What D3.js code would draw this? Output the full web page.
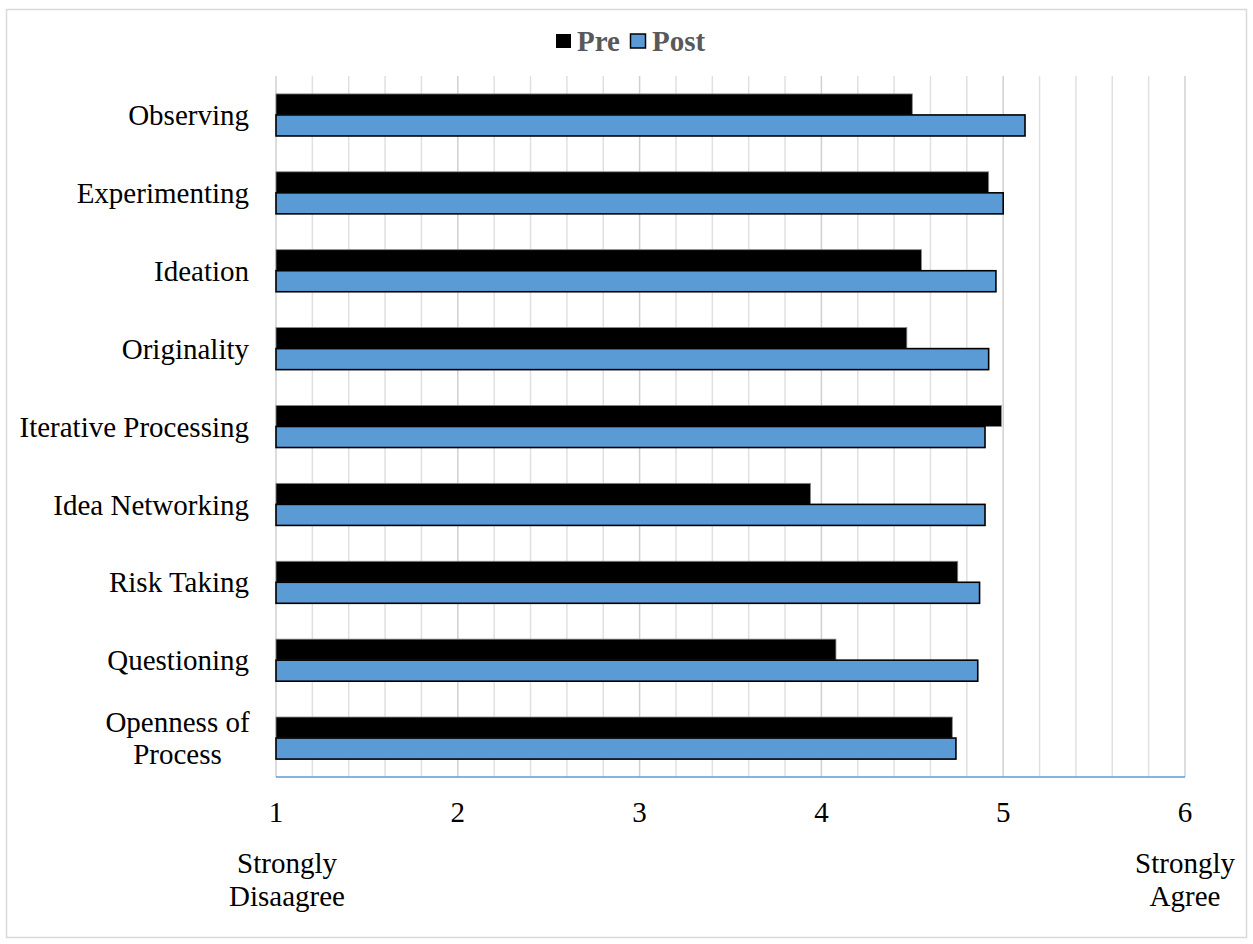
<!DOCTYPE html>
<html>
<head>
<meta charset="utf-8">
<script src="https://cdn.jsdelivr.net/npm/d3@7/dist/d3.min.js"></script>
<style>
    body { margin: 0; background: #fff; }
    svg text { font-family: "Liberation Serif", "Times New Roman", serif; }
</style>
</head>
<body>
<div id="chart"><svg></svg></div>
<script>
var categories = ["Observing", "Experimenting", "Ideation", "Originality", "Iterative Processing",
    "Idea Networking", "Risk Taking", "Questioning", "Openness of Process"];
var preValues = [4.50, 4.92, 4.55, 4.47, 4.99, 3.94, 4.75, 4.08, 4.72];
var postValues = [5.12, 5.00, 4.96, 4.92, 4.90, 4.90, 4.87, 4.86, 4.74];
var seriesNames = ["Pre", "Post"];
var tickValues = [1, 2, 3, 4, 5, 6];

var width = 1253, height = 944;
var fontSize = "29px";
var svg = d3.select("#chart svg").attr("width", width).attr("height", height);

// outer frame
svg.append("rect")
    .attr("x", 6.5).attr("y", 9.5)
    .attr("width", 1240).attr("height", 928)
    .attr("fill", "#fff")
    .attr("stroke", "#d9d9d9")
    .attr("stroke-width", 1.5);

var plot = {left: 276, right: 1185, top: 76, bottom: 777};

var x = d3.scaleLinear().domain([1, 6]).range([plot.left, plot.right]);
var y = d3.scaleBand().domain(categories).range([plot.top, plot.bottom])
    .paddingInner(0.46).paddingOuter(0.23);
var ySub = d3.scaleBand().domain(seriesNames).range([0, y.bandwidth()]);
var colors = {Pre: "#000000", Post: "#5b9bd5"};

// gridlines every 0.2
var gridVals = d3.range(0, 26).map(function (i) { return 1 + i * 0.2; });
svg.append("g").selectAll("line")
    .data(gridVals)
    .enter().append("line")
    .attr("x1", function (d) { return x(d); })
    .attr("x2", function (d) { return x(d); })
    .attr("y1", plot.top)
    .attr("y2", plot.bottom)
    .attr("stroke", function (d, i) { return i % 5 == 0 ? "#d0d0d0" : "#e0e0e0"; })
    .attr("stroke-width", 1.5);

// bars
var rows = categories.map(function (c, i) {
    return {cat: c, values: [{key: "Pre", v: preValues[i]}, {key: "Post", v: postValues[i]}]};
});
var groups = svg.append("g").selectAll("g")
    .data(rows)
    .enter().append("g")
    .attr("transform", function (d) { return "translate(0," + y(d.cat) + ")"; });

groups.selectAll("rect")
    .data(function (d) { return d.values; })
    .enter().append("rect")
    .attr("x", x(1))
    .attr("y", function (d) { return ySub(d.key); })
    .attr("width", function (d) { return x(d.v) - x(1); })
    .attr("height", ySub.bandwidth())
    .attr("fill", function (d) { return colors[d.key]; })
    .attr("stroke", function (d) { return d.key == "Post" ? "#000" : "#888"; })
    .attr("stroke-width", function (d) { return d.key == "Post" ? 1.6 : 0.8; });

// bottom axis line
svg.append("line")
    .attr("x1", plot.left).attr("x2", plot.right)
    .attr("y1", plot.bottom).attr("y2", plot.bottom)
    .attr("stroke", "#5b9bd5").attr("stroke-width", 1.5);

// category labels
var labelG = svg.append("g").attr("font-size", fontSize).attr("fill", "#000");
categories.forEach(function (c) {
    var cy = y(c) + y.bandwidth() / 2;
    if (c == "Openness of Process") {
        var t = labelG.append("text").attr("text-anchor", "middle");
        t.append("tspan").attr("x", 177.5).attr("y", cy - 16).attr("dy", "0.35em").text("Openness of");
        t.append("tspan").attr("x", 177.5).attr("y", cy + 16).attr("dy", "0.35em").text("Process");
    } else {
        labelG.append("text")
            .attr("x", 249)
            .attr("y", cy)
            .attr("dy", "0.35em")
            .attr("text-anchor", "end")
            .text(c);
    }
});

// x tick labels
svg.append("g").selectAll("text")
    .data(tickValues)
    .enter().append("text")
    .attr("x", function (d) { return x(d); })
    .attr("y", 822)
    .attr("text-anchor", "middle")
    .attr("font-size", fontSize)
    .text(function (d) { return d; });

// scale end labels
var ends = [
    {lines: ["Strongly", "Disaagree"], cx: 287},
    {lines: ["Strongly", "Agree"], cx: x(6)}
];
ends.forEach(function (e) {
    var t = svg.append("text").attr("text-anchor", "middle").attr("font-size", fontSize);
    e.lines.forEach(function (l, i) {
        t.append("tspan").attr("x", e.cx).attr("y", 873 + i * 33).text(l);
    });
});

// legend
var legend = svg.append("g");
var legendItems = [{key: "Pre", sx: 556, tx: 577}, {key: "Post", sx: 630.5, tx: 652}];
legendItems.forEach(function (d) {
    legend.append("rect")
        .attr("x", d.sx).attr("y", 34)
        .attr("width", 15).attr("height", 14)
        .attr("fill", colors[d.key])
        .attr("stroke", "#000")
        .attr("stroke-width", d.key == "Post" ? 1.5 : 0);
    legend.append("text")
        .attr("x", d.tx).attr("y", 51)
        .attr("font-size", fontSize)
        .attr("font-weight", "bold")
        .attr("fill", "#595959")
        .text(d.key);
});
</script>
</body>
</html>
